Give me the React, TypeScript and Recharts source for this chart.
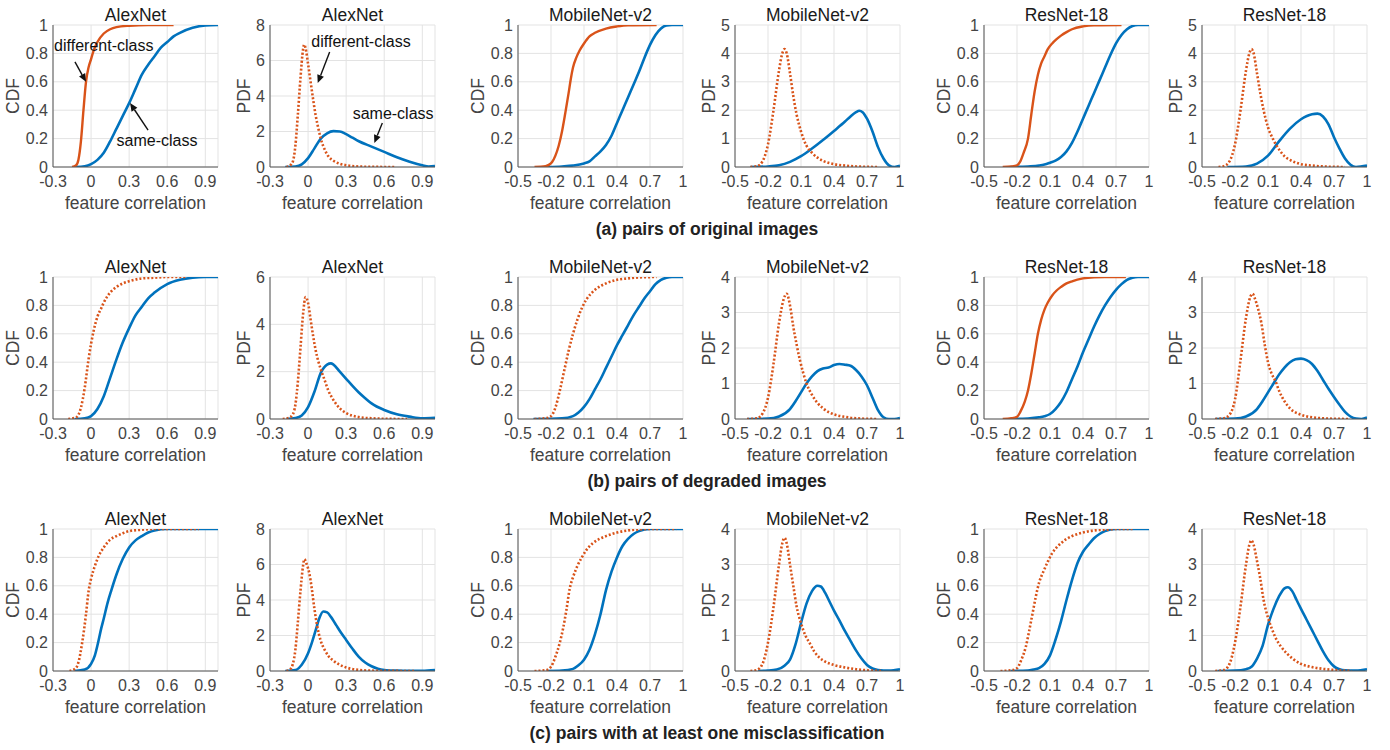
import React from "react";
import {
  LineChart, Line, XAxis, YAxis, CartesianGrid, ReferenceLine, ReferenceDot,
} from "recharts";

// ---- (a) pairs of original images ----
const origAlexCdfSame = [[-0.12,0],[-0.05,0.005],[0,0.02],[0.05,0.05],[0.1,0.1],[0.15,0.18],[0.2,0.27],[0.25,0.36],[0.3,0.45],[0.35,0.55],[0.4,0.65],[0.45,0.72],[0.5,0.78],[0.55,0.84],[0.6,0.88],[0.65,0.92],[0.7,0.945],[0.8,0.98],[0.9,0.997],[1,1]];
const origAlexCdfDiff = [[-0.15,0],[-0.12,0.01],[-0.1,0.05],[-0.08,0.18],[-0.06,0.4],[-0.04,0.6],[-0.02,0.7],[0,0.76],[0.02,0.82],[0.05,0.88],[0.1,0.94],[0.15,0.97],[0.2,0.985],[0.3,0.995],[0.45,1],[0.65,1]];
const origAlexPdfSame = [[-0.18,0],[-0.1,0.03],[-0.05,0.15],[0,0.5],[0.05,1.05],[0.1,1.6],[0.15,1.9],[0.2,2.02],[0.25,2],[0.3,1.85],[0.35,1.65],[0.4,1.45],[0.5,1.15],[0.6,0.85],[0.7,0.55],[0.8,0.3],[0.9,0.1],[0.95,0.03],[1,0.05]];
const origAlexPdfDiff = [[-0.17,0],[-0.14,0.1],[-0.12,0.3],[-0.1,1.2],[-0.08,3],[-0.06,5],[-0.04,6.6],[-0.03,6.9],[-0.02,6.7],[0,5.8],[0.02,4.8],[0.04,3.8],[0.06,2.9],[0.08,2.2],[0.1,1.6],[0.13,1],[0.16,0.6],[0.2,0.35],[0.25,0.18],[0.3,0.1],[0.4,0.03],[0.5,0.01],[0.68,0]];

const origMobileCdfSame = [[-0.23,0],[-0.1,0.004],[0,0.01],[0.1,0.025],[0.15,0.04],[0.2,0.075],[0.25,0.11],[0.3,0.155],[0.35,0.22],[0.4,0.31],[0.45,0.4],[0.5,0.49],[0.55,0.58],[0.6,0.67],[0.65,0.77],[0.7,0.86],[0.75,0.93],[0.8,0.975],[0.85,0.997],[0.9,1],[1,1]];
const origMobileCdfDiff = [[-0.35,0],[-0.25,0.005],[-0.22,0.015],[-0.19,0.035],[-0.16,0.08],[-0.13,0.15],[-0.1,0.25],[-0.07,0.38],[-0.04,0.52],[-0.02,0.62],[0,0.7],[0.03,0.77],[0.06,0.82],[0.1,0.87],[0.15,0.92],[0.2,0.945],[0.3,0.975],[0.4,0.99],[0.5,0.998],[0.76,1]];
const origMobilePdfSame = [[-0.36,0],[-0.2,0.02],[-0.1,0.06],[0,0.18],[0.1,0.38],[0.2,0.65],[0.3,0.95],[0.4,1.27],[0.5,1.6],[0.55,1.78],[0.6,1.93],[0.63,1.98],[0.66,1.93],[0.7,1.7],[0.75,1.25],[0.8,0.7],[0.85,0.3],[0.9,0.06],[0.95,0],[1,0.04]];
const origMobilePdfDiff = [[-0.36,0],[-0.3,0.03],[-0.25,0.2],[-0.2,0.8],[-0.15,2],[-0.1,3.4],[-0.07,4],[-0.05,4.15],[-0.03,4],[0,3.3],[0.03,2.5],[0.06,1.85],[0.1,1.25],[0.15,0.75],[0.2,0.5],[0.25,0.33],[0.3,0.22],[0.4,0.1],[0.5,0.05],[0.6,0.02],[0.8,0]];

const origResCdfSame = [[-0.26,0],[-0.1,0.004],[0,0.01],[0.05,0.017],[0.1,0.03],[0.15,0.045],[0.2,0.07],[0.25,0.11],[0.3,0.17],[0.35,0.25],[0.4,0.34],[0.45,0.43],[0.5,0.52],[0.55,0.61],[0.6,0.7],[0.65,0.79],[0.7,0.87],[0.75,0.93],[0.8,0.97],[0.85,0.993],[0.9,1],[1,1]];
const origResCdfDiff = [[-0.33,0],[-0.25,0.004],[-0.2,0.012],[-0.17,0.04],[-0.14,0.1],[-0.1,0.2],[-0.07,0.37],[-0.04,0.53],[-0.01,0.65],[0.02,0.73],[0.05,0.78],[0.08,0.83],[0.12,0.87],[0.16,0.9],[0.2,0.925],[0.25,0.95],[0.3,0.97],[0.4,0.99],[0.5,0.998],[0.75,1]];
const origResPdfSame = [[-0.27,0],[-0.1,0.02],[0,0.12],[0.1,0.4],[0.2,0.9],[0.3,1.35],[0.4,1.68],[0.5,1.86],[0.55,1.88],[0.6,1.78],[0.65,1.5],[0.7,1.05],[0.75,0.65],[0.8,0.3],[0.85,0.08],[0.9,0],[1,0.05]];
const origResPdfDiff = [[-0.35,0],[-0.3,0.03],[-0.25,0.2],[-0.2,0.8],[-0.15,2],[-0.1,3.4],[-0.07,4],[-0.05,4.15],[-0.03,4],[0,3.3],[0.03,2.6],[0.06,2],[0.1,1.4],[0.15,0.95],[0.2,0.62],[0.25,0.38],[0.3,0.25],[0.4,0.1],[0.5,0.05],[0.6,0.02],[0.8,0]];

// ---- (b) pairs of degraded images ----
const degrAlexCdfSame = [[-0.13,0],[-0.05,0.005],[0,0.02],[0.05,0.07],[0.1,0.16],[0.15,0.29],[0.2,0.42],[0.25,0.54],[0.3,0.64],[0.35,0.73],[0.4,0.79],[0.45,0.85],[0.5,0.89],[0.6,0.95],[0.7,0.98],[0.8,0.995],[0.9,1],[1,1]];
const degrAlexCdfDiff = [[-0.18,0],[-0.12,0.01],[-0.08,0.08],[-0.05,0.22],[-0.02,0.42],[0,0.53],[0.02,0.62],[0.05,0.72],[0.08,0.78],[0.1,0.82],[0.15,0.89],[0.2,0.93],[0.25,0.955],[0.3,0.97],[0.4,0.99],[0.5,0.995],[0.6,1],[0.75,1]];
const degrAlexPdfSame = [[-0.17,0],[-0.1,0.04],[-0.05,0.15],[0,0.5],[0.05,1.15],[0.1,1.95],[0.15,2.3],[0.18,2.35],[0.2,2.3],[0.25,2],[0.3,1.7],[0.35,1.4],[0.4,1.12],[0.45,0.88],[0.5,0.66],[0.6,0.38],[0.7,0.2],[0.8,0.1],[0.9,0.03],[1,0.05]];
const degrAlexPdfDiff = [[-0.2,0],[-0.15,0.05],[-0.12,0.2],[-0.1,0.6],[-0.08,1.6],[-0.06,3],[-0.04,4.4],[-0.02,5.15],[0,4.9],[0.02,4.2],[0.04,3.5],[0.06,2.9],[0.08,2.45],[0.1,2.1],[0.13,1.65],[0.16,1.2],[0.2,0.8],[0.25,0.45],[0.3,0.25],[0.4,0.08],[0.5,0.03],[0.6,0.01],[0.78,0]];

const degrMobileCdfSame = [[-0.36,0],[-0.1,0.005],[0,0.02],[0.05,0.045],[0.1,0.085],[0.15,0.14],[0.2,0.21],[0.25,0.28],[0.3,0.36],[0.35,0.44],[0.4,0.52],[0.45,0.59],[0.5,0.66],[0.55,0.73],[0.6,0.79],[0.65,0.85],[0.7,0.9],[0.75,0.95],[0.8,0.98],[0.85,0.995],[0.9,1],[1,1]];
const degrMobileCdfDiff = [[-0.35,0],[-0.25,0.005],[-0.2,0.02],[-0.16,0.08],[-0.12,0.2],[-0.08,0.34],[-0.04,0.48],[0,0.6],[0.04,0.7],[0.08,0.78],[0.12,0.84],[0.16,0.88],[0.2,0.91],[0.3,0.955],[0.4,0.98],[0.5,0.99],[0.6,0.997],[0.76,1]];
const degrMobilePdfSame = [[-0.39,0],[-0.2,0.01],[-0.1,0.07],[0,0.28],[0.05,0.5],[0.1,0.75],[0.15,1],[0.2,1.2],[0.25,1.35],[0.3,1.42],[0.35,1.45],[0.4,1.52],[0.45,1.55],[0.5,1.53],[0.55,1.5],[0.6,1.38],[0.65,1.2],[0.7,0.95],[0.75,0.6],[0.8,0.25],[0.85,0.05],[0.9,0],[0.95,0],[1,0.03]];
const degrMobilePdfDiff = [[-0.39,0],[-0.3,0.02],[-0.25,0.15],[-0.2,0.6],[-0.15,1.55],[-0.1,2.7],[-0.06,3.35],[-0.03,3.53],[0,3.2],[0.03,2.6],[0.06,2.1],[0.09,1.66],[0.12,1.3],[0.15,1],[0.2,0.68],[0.25,0.45],[0.3,0.3],[0.4,0.13],[0.5,0.06],[0.6,0.02],[0.8,0]];

const degrResCdfSame = [[-0.26,0],[-0.1,0.004],[0,0.012],[0.05,0.02],[0.1,0.035],[0.15,0.07],[0.2,0.12],[0.25,0.19],[0.3,0.28],[0.35,0.37],[0.4,0.47],[0.45,0.56],[0.5,0.65],[0.55,0.73],[0.6,0.8],[0.65,0.86],[0.7,0.91],[0.75,0.95],[0.8,0.98],[0.85,0.995],[0.9,1],[1,1]];
const degrResCdfDiff = [[-0.33,0],[-0.25,0.005],[-0.2,0.015],[-0.17,0.05],[-0.13,0.12],[-0.1,0.2],[-0.07,0.32],[-0.04,0.46],[-0.01,0.6],[0.02,0.7],[0.05,0.77],[0.08,0.82],[0.12,0.87],[0.16,0.905],[0.2,0.93],[0.25,0.955],[0.3,0.97],[0.4,0.99],[0.5,0.998],[0.6,1],[0.79,1]];
const degrResPdfSame = [[-0.38,0],[-0.2,0.01],[-0.1,0.07],[0,0.28],[0.05,0.5],[0.1,0.75],[0.15,1],[0.2,1.25],[0.25,1.45],[0.3,1.6],[0.35,1.68],[0.4,1.7],[0.45,1.66],[0.5,1.55],[0.55,1.35],[0.6,1.1],[0.65,0.85],[0.7,0.62],[0.75,0.4],[0.8,0.2],[0.85,0.07],[0.9,0.01],[0.95,0],[1,0.04]];
const degrResPdfDiff = [[-0.38,0],[-0.3,0.02],[-0.25,0.12],[-0.2,0.55],[-0.15,1.66],[-0.1,2.85],[-0.06,3.45],[-0.04,3.53],[-0.02,3.4],[0.01,3.1],[0.04,2.7],[0.07,2.1],[0.1,1.6],[0.13,1.3],[0.17,1.05],[0.2,0.8],[0.25,0.5],[0.3,0.3],[0.4,0.12],[0.5,0.05],[0.6,0.02],[0.83,0]];

// ---- (c) pairs with at least one misclassification ----
const misAlexCdfSame = [[-0.13,0],[-0.05,0.01],[0,0.05],[0.03,0.11],[0.05,0.18],[0.08,0.3],[0.1,0.37],[0.13,0.48],[0.16,0.57],[0.2,0.68],[0.25,0.79],[0.3,0.87],[0.35,0.92],[0.4,0.95],[0.45,0.975],[0.5,0.99],[0.6,1],[1,1]];
const misAlexCdfDiff = [[-0.17,0],[-0.12,0.02],[-0.1,0.06],[-0.07,0.2],[-0.04,0.4],[-0.02,0.56],[0,0.65],[0.03,0.74],[0.06,0.81],[0.1,0.87],[0.15,0.925],[0.2,0.95],[0.25,0.97],[0.3,0.985],[0.4,0.995],[0.5,1],[0.85,1]];
const misAlexPdfSame = [[-0.18,0],[-0.1,0.05],[-0.05,0.35],[0,1],[0.03,1.6],[0.06,2.3],[0.09,3],[0.12,3.35],[0.15,3.3],[0.18,3.05],[0.22,2.6],[0.26,2.15],[0.3,1.75],[0.35,1.25],[0.4,0.8],[0.45,0.48],[0.5,0.27],[0.55,0.13],[0.6,0.06],[0.7,0.02],[0.8,0.01],[0.9,0.01],[1,0.05]];
const misAlexPdfDiff = [[-0.17,0],[-0.14,0.1],[-0.12,0.4],[-0.1,1.2],[-0.08,2.8],[-0.06,4.5],[-0.04,5.9],[-0.03,6.3],[-0.01,6],[0.01,5.5],[0.03,4.6],[0.05,3.5],[0.07,2.6],[0.1,1.7],[0.13,1.2],[0.16,0.85],[0.2,0.58],[0.25,0.35],[0.3,0.2],[0.4,0.06],[0.5,0.02],[0.84,0]];

const misMobileCdfSame = [[-0.24,0],[-0.1,0.003],[0,0.015],[0.05,0.04],[0.1,0.08],[0.15,0.15],[0.2,0.26],[0.25,0.4],[0.3,0.57],[0.35,0.7],[0.4,0.8],[0.45,0.88],[0.5,0.93],[0.55,0.965],[0.6,0.985],[0.7,1],[1,1]];
const misMobileCdfDiff = [[-0.35,0],[-0.25,0.005],[-0.2,0.03],[-0.16,0.1],[-0.12,0.2],[-0.09,0.3],[-0.06,0.43],[-0.03,0.58],[0,0.66],[0.04,0.74],[0.08,0.8],[0.12,0.85],[0.18,0.9],[0.24,0.93],[0.3,0.95],[0.4,0.975],[0.5,0.99],[0.6,0.997],[0.7,1],[0.94,1]];
const misMobilePdfSame = [[-0.29,0],[-0.2,0.01],[-0.12,0.04],[-0.05,0.15],[0,0.32],[0.05,0.75],[0.1,1.35],[0.15,1.9],[0.2,2.25],[0.25,2.4],[0.28,2.38],[0.32,2.2],[0.36,1.95],[0.4,1.7],[0.45,1.42],[0.5,1.12],[0.55,0.85],[0.6,0.58],[0.65,0.35],[0.7,0.17],[0.75,0.07],[0.8,0.03],[0.9,0.01],[1,0.05]];
const misMobilePdfDiff = [[-0.36,0],[-0.3,0.03],[-0.25,0.2],[-0.2,0.8],[-0.15,1.8],[-0.1,3],[-0.07,3.6],[-0.05,3.75],[-0.03,3.6],[0,3],[0.03,2.4],[0.06,1.82],[0.1,1.35],[0.14,1],[0.18,0.78],[0.22,0.55],[0.26,0.4],[0.3,0.3],[0.4,0.17],[0.5,0.1],[0.6,0.05],[0.7,0.02],[0.84,0]];

const misResCdfSame = [[-0.26,0],[-0.1,0.003],[-0.05,0.01],[0,0.02],[0.05,0.05],[0.1,0.11],[0.15,0.22],[0.2,0.35],[0.25,0.5],[0.3,0.64],[0.35,0.76],[0.4,0.84],[0.45,0.89],[0.5,0.935],[0.55,0.965],[0.6,0.985],[0.7,1],[1,1]];
const misResCdfDiff = [[-0.35,0],[-0.25,0.005],[-0.2,0.02],[-0.16,0.08],[-0.12,0.17],[-0.09,0.28],[-0.06,0.4],[-0.03,0.52],[0,0.62],[0.04,0.7],[0.08,0.77],[0.12,0.83],[0.16,0.87],[0.2,0.9],[0.25,0.93],[0.3,0.95],[0.4,0.975],[0.5,0.99],[0.6,0.995],[0.7,1],[0.85,1]];
const misResPdfSame = [[-0.36,0],[-0.2,0.01],[-0.1,0.05],[-0.05,0.12],[0,0.35],[0.05,0.7],[0.1,1.3],[0.15,1.75],[0.2,2.1],[0.25,2.33],[0.28,2.36],[0.32,2.25],[0.36,2],[0.4,1.75],[0.45,1.45],[0.5,1.15],[0.55,0.85],[0.6,0.55],[0.65,0.3],[0.7,0.13],[0.75,0.05],[0.8,0.02],[0.9,0.01],[1,0.05]];
const misResPdfDiff = [[-0.38,0],[-0.3,0.03],[-0.25,0.2],[-0.2,0.8],[-0.15,1.82],[-0.1,3],[-0.07,3.55],[-0.05,3.68],[-0.03,3.55],[0,3.1],[0.03,2.6],[0.06,2],[0.1,1.5],[0.14,1.15],[0.18,0.87],[0.22,0.68],[0.27,0.5],[0.32,0.36],[0.4,0.2],[0.5,0.11],[0.6,0.06],[0.7,0.03],[0.86,0]];

// axis ticks
const alexXTicks = [-0.3, 0, 0.3, 0.6, 0.9];
const otherXTicks = [-0.5, -0.2, 0.1, 0.4, 0.7, 1];
const cdfTicks = [0, 0.2, 0.4, 0.6, 0.8, 1];
const pdfTicks8 = [0, 2, 4, 6, 8];
const pdfTicks6 = [0, 2, 4, 6];
const pdfTicks5 = [0, 1, 2, 3, 4, 5];
const pdfTicks4 = [0, 1, 2, 3, 4];

const captions = [
  "(a) pairs of original images",
  "(b) pairs of degraded images",
  "(c) pairs with at least one misclassification",
];

const BLUE = "#0072BD";
const RED = "#D95319";
const FONT = '"Liberation Sans", Arial, sans-serif';

const ROW_TOPS = [25, 277, 529];
const COL_LEFTS = [53, 270, 518, 735, 984, 1202];
const PLOT_W = 165;
const PLOT_H = 142;
const Y_W = 55;
const TOP = 25;
const X_H = 45;
const RIGHT = 10;

type Note = { text: string; tx: number; ty: number; from: [number, number]; to: [number, number] };
type Panel = {
  title: string;
  kind: "CDF" | "PDF";
  xTicks: number[];
  yTicks: number[];
  same: number[][];
  diff: number[][];
  diffSolid?: boolean;
  notes?: Note[];
};

const alexCdfNotes: Note[] = [
  { text: "different-class", tx: 0.1, ty: 0.86, from: [-0.127, 0.74], to: [-0.04, 0.6] },
  { text: "same-class", tx: 0.52, ty: 0.19, from: [0.449, 0.26], to: [0.307, 0.45] },
];
const alexPdfNotes: Note[] = [
  { text: "different-class", tx: 0.417, ty: 7.1, from: [0.17, 6.48], to: [0.076, 4.73] },
  { text: "same-class", tx: 0.67, ty: 3.04, from: [0.585, 2.48], to: [0.522, 1.35] },
];

const panels: Panel[][] = [
  [
    { title: "AlexNet", kind: "CDF", xTicks: alexXTicks, yTicks: cdfTicks, same: origAlexCdfSame, diff: origAlexCdfDiff, diffSolid: true, notes: alexCdfNotes },
    { title: "AlexNet", kind: "PDF", xTicks: alexXTicks, yTicks: pdfTicks8, same: origAlexPdfSame, diff: origAlexPdfDiff, notes: alexPdfNotes },
    { title: "MobileNet-v2", kind: "CDF", xTicks: otherXTicks, yTicks: cdfTicks, same: origMobileCdfSame, diff: origMobileCdfDiff, diffSolid: true },
    { title: "MobileNet-v2", kind: "PDF", xTicks: otherXTicks, yTicks: pdfTicks5, same: origMobilePdfSame, diff: origMobilePdfDiff },
    { title: "ResNet-18", kind: "CDF", xTicks: otherXTicks, yTicks: cdfTicks, same: origResCdfSame, diff: origResCdfDiff, diffSolid: true },
    { title: "ResNet-18", kind: "PDF", xTicks: otherXTicks, yTicks: pdfTicks5, same: origResPdfSame, diff: origResPdfDiff },
  ],
  [
    { title: "AlexNet", kind: "CDF", xTicks: alexXTicks, yTicks: cdfTicks, same: degrAlexCdfSame, diff: degrAlexCdfDiff },
    { title: "AlexNet", kind: "PDF", xTicks: alexXTicks, yTicks: pdfTicks6, same: degrAlexPdfSame, diff: degrAlexPdfDiff },
    { title: "MobileNet-v2", kind: "CDF", xTicks: otherXTicks, yTicks: cdfTicks, same: degrMobileCdfSame, diff: degrMobileCdfDiff },
    { title: "MobileNet-v2", kind: "PDF", xTicks: otherXTicks, yTicks: pdfTicks4, same: degrMobilePdfSame, diff: degrMobilePdfDiff },
    { title: "ResNet-18", kind: "CDF", xTicks: otherXTicks, yTicks: cdfTicks, same: degrResCdfSame, diff: degrResCdfDiff, diffSolid: true },
    { title: "ResNet-18", kind: "PDF", xTicks: otherXTicks, yTicks: pdfTicks4, same: degrResPdfSame, diff: degrResPdfDiff },
  ],
  [
    { title: "AlexNet", kind: "CDF", xTicks: alexXTicks, yTicks: cdfTicks, same: misAlexCdfSame, diff: misAlexCdfDiff },
    { title: "AlexNet", kind: "PDF", xTicks: alexXTicks, yTicks: pdfTicks8, same: misAlexPdfSame, diff: misAlexPdfDiff },
    { title: "MobileNet-v2", kind: "CDF", xTicks: otherXTicks, yTicks: cdfTicks, same: misMobileCdfSame, diff: misMobileCdfDiff },
    { title: "MobileNet-v2", kind: "PDF", xTicks: otherXTicks, yTicks: pdfTicks4, same: misMobilePdfSame, diff: misMobilePdfDiff },
    { title: "ResNet-18", kind: "CDF", xTicks: otherXTicks, yTicks: cdfTicks, same: misResCdfSame, diff: misResCdfDiff },
    { title: "ResNet-18", kind: "PDF", xTicks: otherXTicks, yTicks: pdfTicks4, same: misResPdfSame, diff: misResPdfDiff },
  ],
];

const toPoints = (arr: number[][]) => arr.map(([x, y]) => ({ x, y }));

// line with a filled head at (x2, y2)
const Arrow = (p: any) => {
  const { x1, y1, x2, y2 } = p;
  const a = Math.atan2(y2 - y1, x2 - x1);
  const L = 8, W = 3.5;
  const bx = x2 - L * Math.cos(a), by = y2 - L * Math.sin(a);
  const nx = -Math.sin(a) * W, ny = Math.cos(a) * W;
  return (
    <g>
      <line x1={x1} y1={y1} x2={bx} y2={by} stroke="#111" strokeWidth={1.4} />
      <polygon points={`${x2},${y2} ${bx + nx},${by + ny} ${bx - nx},${by - ny}`} fill="#111" />
    </g>
  );
};

const SubPlot = ({ panel, left, top }: { panel: Panel; left: number; top: number }) => {
  const xd = [panel.xTicks[0], 1];
  const yd = [0, panel.yTicks[panel.yTicks.length - 1]];
  const yLabelOffset = panel.kind === "CDF" ? 40 : 26;
  return (
    <div style={{ position: "absolute", left: left - Y_W, top: top - TOP }}>
      <LineChart width={Y_W + PLOT_W + RIGHT} height={TOP + PLOT_H + X_H} margin={{ top: TOP, right: RIGHT, bottom: 0, left: 0 }}>
        <CartesianGrid stroke="#e3e3e3" strokeWidth={1} />
        <XAxis
          dataKey="x" type="number" domain={xd} ticks={panel.xTicks} allowDataOverflow
          height={X_H} tickLine={false} tickSize={0} tickMargin={9}
          stroke="#555" tick={{ fill: "#444", fontSize: 16, fontFamily: FONT }}
          label={{
            content: ({ viewBox }: any) => (
              <text x={viewBox.x + viewBox.width / 2} y={viewBox.y + 36} textAnchor="middle" dominantBaseline="central"
                fill="#444" fontSize={17.5} fontFamily={FONT}>feature correlation</text>
            ),
          }}
        />
        <YAxis
          dataKey="y" type="number" domain={yd} ticks={panel.yTicks} allowDataOverflow
          width={Y_W} tickLine={false} tickSize={0} tickMargin={5}
          stroke="#555" tick={{ fill: "#444", fontSize: 16, fontFamily: FONT }}
          label={{
            content: ({ viewBox }: any) => {
              const cx = viewBox.x + viewBox.width - yLabelOffset;
              const cy = viewBox.y + viewBox.height / 2;
              return (
                <text x={cx} y={cy} transform={`rotate(-90 ${cx} ${cy})`} textAnchor="middle" dominantBaseline="central"
                  fill="#444" fontSize={17.5} fontFamily={FONT}>{panel.kind}</text>
              );
            },
          }}
        />
        <Line data={toPoints(panel.same)} dataKey="y" type="monotone" stroke={BLUE} strokeWidth={2.6}
          dot={false} isAnimationActive={false} />
        <Line data={toPoints(panel.diff)} dataKey="y" type="monotone" stroke={RED}
          strokeWidth={panel.diffSolid ? 2.4 : 2.6} strokeDasharray={panel.diffSolid ? undefined : "2 2"}
          dot={false} isAnimationActive={false} />
        {(panel.notes || []).map((n, i) => (
          <ReferenceLine key={`a${i}`} segment={[{ x: n.from[0], y: n.from[1] }, { x: n.to[0], y: n.to[1] }]} shape={Arrow} />
        ))}
        {(panel.notes || []).map((n, i) => (
          <ReferenceDot key={`t${i}`} x={n.tx} y={n.ty} r={1} fill="none" stroke="none"
            label={{ value: n.text, position: "center", fill: "#111", fontSize: 16, fontFamily: FONT }} />
        ))}
      </LineChart>
      <div style={{
        position: "absolute", left: Y_W, top: 3, width: PLOT_W, textAlign: "center",
        fontFamily: FONT, fontSize: 17.5, lineHeight: "24px", color: "#1a1a1a",
      }}>{panel.title}</div>
    </div>
  );
};

export default function App() {
  return (
    <div style={{ position: "absolute", left: 0, top: 0, width: 1390, height: 750, background: "#fff", overflow: "hidden" }}>
      {panels.map((row, r) => (
        <React.Fragment key={r}>
          {row.map((p, c) => (
            <SubPlot key={c} panel={p} left={COL_LEFTS[c]} top={ROW_TOPS[r]} />
          ))}
          <div style={{
            position: "absolute", left: 307, width: 800, top: ROW_TOPS[r] + 204 - 12,
            textAlign: "center", fontFamily: FONT, fontWeight: "bold", fontSize: 17.5, lineHeight: "24px", color: "#222",
          }}>{captions[r]}</div>
        </React.Fragment>
      ))}
    </div>
  );
}
